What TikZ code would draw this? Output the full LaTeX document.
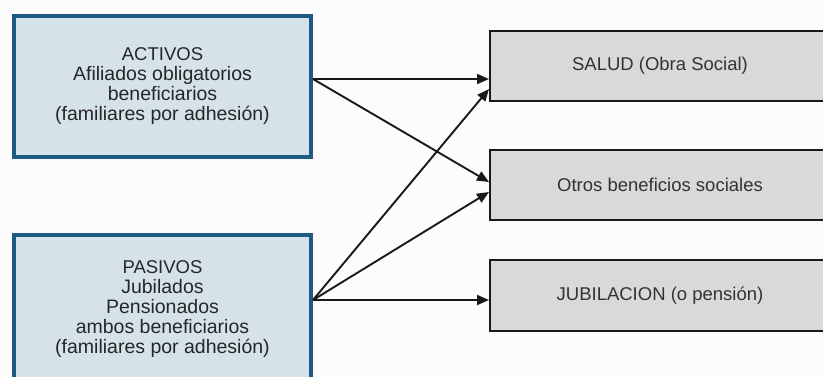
\documentclass[tikz,border=0pt]{standalone}
\usepackage{fontspec}
\setmainfont{Liberation Sans}
\usetikzlibrary{arrows.meta}
\definecolor{leftfill}{HTML}{D6E2EA}
\definecolor{leftdraw}{HTML}{1D5B82}
\definecolor{rightfill}{HTML}{D9D9D9}
\definecolor{bgcol}{HTML}{FCFCFC}
\newcommand{\ttl}[1]{{\fontsize{18.5}{20}\selectfont #1}}
\begin{document}
\begin{tikzpicture}[x=1pt,y=-1pt,
  leftbox/.style={draw=leftdraw, fill=leftfill, line width=4pt, minimum width=297pt,
    text=black!85, align=center, font=\fontsize{19.5}{20}\selectfont, inner sep=0pt},
  rightbox/.style={draw=black!90, fill=rightfill, line width=2pt, minimum width=340pt,
    text=black!80, align=center, font=\fontsize{18.5}{20}\selectfont, inner sep=0pt},
  arr/.style={line width=1.9pt, draw=black!90, -{Triangle[length=12pt,width=10pt]}}]
\useasboundingbox (0,0) rectangle (823,376);
\clip (0,0) rectangle (823,376);
\fill[bgcol] (0,0) rectangle (823,376);
\node[leftbox, minimum height=141pt] (act) at (162.5,86.5)
  {\ttl{ACTIVOS}\\Afiliados obligatorios\\beneficiarios\\(familiares por adhesión)};
\node[leftbox, minimum height=148pt] (pas) at (162.5,309)
  {\ttl{PASIVOS}\\Jubilados\\Pensionados\\ambos beneficiarios\\(familiares por adhesión)};
\node[rightbox, minimum height=70pt] (salud) at (660,66) {SALUD (Obra Social)};
\node[rightbox, minimum height=70pt] (otros) at (660,185) {Otros beneficios sociales};
\node[rightbox, minimum height=71pt] (jub) at (660,295.5) {JUBILACION (o pensión)};
\draw[arr] ([yshift=7.5pt]act.east) -- ([yshift=-13pt]salud.west);
\draw[arr] ([yshift=7.5pt]act.east) -- ([yshift=3pt]otros.west);
\draw[arr] ([yshift=9pt]pas.east) -- ([yshift=-23pt]salud.west);
\draw[arr] ([yshift=9pt]pas.east) -- ([yshift=-7pt]otros.west);
\draw[arr] ([yshift=9pt]pas.east) -- ([yshift=-4.5pt]jub.west);
\end{tikzpicture}
\end{document}
